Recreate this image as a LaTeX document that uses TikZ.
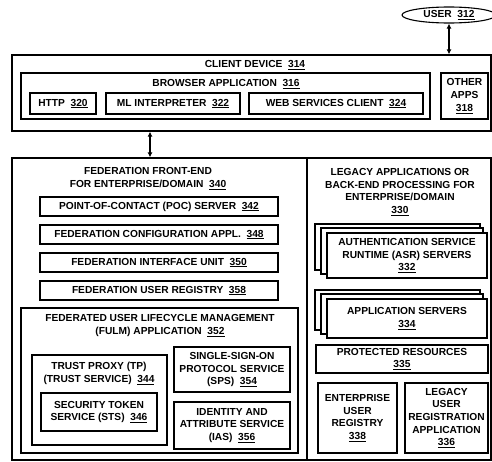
\documentclass[tikz,border=0pt]{standalone}
\usepackage{fontspec}
\setmainfont{Liberation Sans}
\usetikzlibrary{arrows.meta,shapes.geometric}
\newcommand{\nr}[1]{\underline{#1}}

\begin{document}
\begin{tikzpicture}[x=1pt,y=-1pt]
\tikzset{
  box/.style={rectangle,draw=black,line width=1.1pt,fill=white,inner sep=1pt,align=center,
    font=\fontsize{10.2}{12.7}\selectfont\bfseries},
  outerbox/.style={box,line width=1.3pt},
  titletext/.style={inner sep=0pt,align=center,font=\fontsize{10.2}{12.7}\selectfont\bfseries},
  userellipse/.style={ellipse,draw=black,line width=1.1pt,inner sep=0pt,font=\fontsize{10.2}{12.7}\selectfont\bfseries},
  dblarrow/.style={draw=black,line width=1.1pt,{Latex[length=5pt,width=5pt]}-{Latex[length=5pt,width=5pt]}}
}
\useasboundingbox (0,0) rectangle (492,461);
\node[userellipse,minimum width=94pt,minimum height=16pt] (n_user) at (449,15) {USER\ \ \nr{312}};
\node[outerbox,minimum width=479pt,minimum height=76pt] (n_client) at (251.5,93) {};
\node[titletext] (n_clienttitle) at (255,65) {CLIENT DEVICE\ \ \nr{314}};
\node[box,minimum width=409pt,minimum height=46pt] (n_browser) at (225.5,96) {};
\node[titletext] (n_browsertitle) at (226,84) {BROWSER APPLICATION\ \ \nr{316}};
\node[box,minimum width=66pt,minimum height=21pt] (n_http) at (63,103.5) {HTTP\ \ \nr{320}};
\node[box,minimum width=134pt,minimum height=21pt] (n_ml) at (173,103.5) {ML INTERPRETER\ \ \nr{322}};
\node[box,minimum width=174pt,minimum height=21pt] (n_ws) at (336,103.5) {WEB SERVICES CLIENT\ \ \nr{324}};
\node[box,minimum width=47pt,minimum height=46pt] (n_other) at (464.5,96) {OTHER\\APPS\\\nr{318}};
\node[outerbox,minimum width=295pt,minimum height=302pt] (n_fed) at (159.5,309) {};
\node[outerbox,minimum width=184pt,minimum height=302pt] (n_legacy) at (399,309) {};
\node[titletext] (n_fedtitle) at (148,178.5) {FEDERATION FRONT-END\\FOR ENTERPRISE/DOMAIN\ \ \nr{340}};
\node[box,minimum width=238pt,minimum height=19pt] (n_poc) at (159,206.5) {POINT-OF-CONTACT (POC) SERVER\ \ \nr{342}};
\node[box,minimum width=238pt,minimum height=19pt] (n_config) at (159,234.5) {FEDERATION CONFIGURATION APPL.\ \ \nr{348}};
\node[box,minimum width=238pt,minimum height=19pt] (n_iface) at (159,262.5) {FEDERATION INTERFACE UNIT\ \ \nr{350}};
\node[box,minimum width=238pt,minimum height=19pt] (n_registry) at (159,290.5) {FEDERATION USER REGISTRY\ \ \nr{358}};
\node[box,minimum width=277pt,minimum height=145pt] (n_fulm) at (159.5,380.5) {};
\node[titletext] (n_fulmtitle) at (160,325.5) {FEDERATED USER LIFECYCLE MANAGEMENT\\(FULM) APPLICATION\ \ \nr{352}};
\node[box,minimum width=135pt,minimum height=90pt] (n_tp) at (99.5,400) {};
\node[titletext] (n_tptitle) at (99,373.5) {TRUST PROXY (TP)\\(TRUST SERVICE)\ \ \nr{344}};
\node[box,minimum width=116pt,minimum height=38pt] (n_sts) at (99,412) {SECURITY TOKEN\\SERVICE (STS)\ \ \nr{346}};
\node[box,minimum width=116pt,minimum height=45pt] (n_sps) at (232,369.5) {SINGLE-SIGN-ON\\PROTOCOL SERVICE\\(SPS)\ \ \nr{354}};
\node[box,minimum width=116pt,minimum height=47pt] (n_ias) at (232,425.5) {IDENTITY AND\\ATTRIBUTE SERVICE\\(IAS)\ \ \nr{356}};
\node[titletext] (n_legacytitle) at (400,192) {LEGACY APPLICATIONS OR\\BACK-END PROCESSING FOR\\ENTERPRISE/DOMAIN\\\nr{330}};
\node[box,minimum width=165pt,minimum height=46pt] (n_asr3) at (397.5,247) {};
\node[box,minimum width=162pt,minimum height=46pt] (n_asr2) at (402,251) {};
\node[box,minimum width=160pt,minimum height=45pt] (n_asr) at (407,255.5) {AUTHENTICATION SERVICE\\RUNTIME (ASR) SERVERS\\\nr{332}};
\node[box,minimum width=165pt,minimum height=40pt] (n_app3) at (397.5,310) {};
\node[box,minimum width=162pt,minimum height=40pt] (n_app2) at (402,314) {};
\node[box,minimum width=160pt,minimum height=39pt] (n_app) at (407,318.5) {APPLICATION SERVERS\\\nr{334}};
\node[box,minimum width=172pt,minimum height=28pt] (n_protected) at (402,359) {PROTECTED RESOURCES\\\nr{335}};
\node[box,minimum width=79pt,minimum height=70pt] (n_entreg) at (357.5,418) {ENTERPRISE\\USER\\REGISTRY\\\nr{338}};
\node[box,minimum width=83pt,minimum height=70pt] (n_legreg) at (446.5,418) {LEGACY\\USER\\REGISTRATION\\APPLICATION\\\nr{336}};
\coordinate (c_fedlink) at (150,0);
\draw[dblarrow] (n_user.south) -- (n_user.south |- n_client.north);
\draw[dblarrow] (n_client.south -| c_fedlink) -- (n_fed.north -| c_fedlink);
\end{tikzpicture}
\end{document}
